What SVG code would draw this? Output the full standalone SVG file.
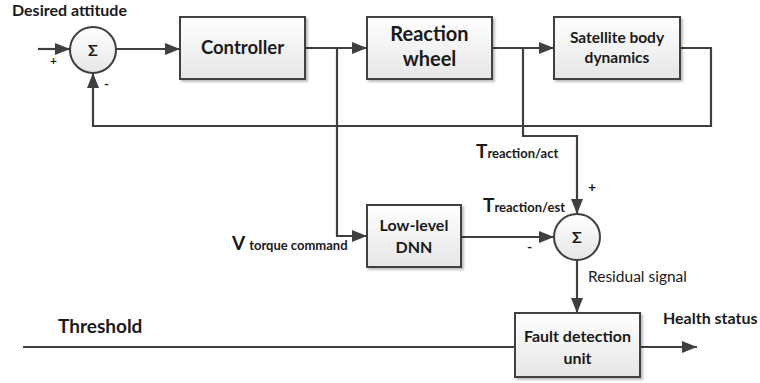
<svg xmlns="http://www.w3.org/2000/svg" width="760" height="383" viewBox="0 0 760 383">
<style>
text{font-family:Lato,"Open Sans","Liberation Sans",sans-serif;fill:#1a1a1a;font-weight:bold}
.box{fill:url(#g);stroke:#3f3f3f;stroke-width:2;filter:url(#sh)}
.sum{fill:url(#g);stroke:#3f3f3f;stroke-width:2}
.c{fill:none;stroke:#3f3f3f;stroke-width:2.2}
.a{marker-end:url(#ah)}
.mid{text-anchor:middle}
.reg{font-weight:normal}
</style>
<defs>
<linearGradient id="g" x1="0" y1="0" x2="0" y2="1">
<stop offset="0" stop-color="#ffffff"/>
<stop offset="1" stop-color="#e6e6e6"/>
</linearGradient>
<filter id="sh" x="-10%" y="-10%" width="130%" height="130%">
<feDropShadow dx="2" dy="2" stdDeviation="1" flood-color="#000" flood-opacity="0.25"/>
</filter>
<marker id="ah" markerUnits="userSpaceOnUse" markerWidth="15" markerHeight="12" refX="15" refY="6" orient="auto">
<path d="M0,0 L15,6 L0,12 z" fill="#3f3f3f"/>
</marker>
</defs>

<g id="connectors">
<path class="c a" d="M38,49 H70"/>
<path class="c a" d="M116,49 H180"/>
<path class="c a" d="M305,48 H367"/>
<path class="c a" d="M337,48 V236 H367"/>
<path class="c a" d="M492,48 H554"/>
<path class="c a" d="M523,48 V136 H577 V214"/>
<path class="c a" d="M680,48 H711 V126 H93 V73"/>
<path class="c a" d="M461,237 H554"/>
<path class="c a" d="M577,260 V313"/>
<path class="c" d="M23,347 H515"/>
<path class="c a" d="M640,347 H697"/>
</g>

<g id="sum1">
<circle class="sum" cx="93" cy="50" r="23"/>
<text class="mid" x="93" y="56" font-size="16">Σ</text>
</g>
<g id="controller">
<rect class="box" x="180" y="17" width="125" height="62"/>
<text class="mid" x="242.5" y="54" font-size="18.5">Controller</text>
</g>
<g id="reaction-wheel">
<rect class="box" x="367" y="17" width="125" height="62"/>
<text class="mid" x="429.5" y="41" font-size="20">Reaction</text>
<text class="mid" x="429.5" y="66" font-size="20">wheel</text>
</g>
<g id="satellite">
<rect class="box" x="554" y="17" width="126" height="62"/>
<text class="mid" x="617" y="43" font-size="15.5">Satellite body</text>
<text class="mid" x="617" y="63" font-size="15.5">dynamics</text>
</g>
<g id="dnn">
<rect class="box" x="367" y="205" width="94" height="62"/>
<text class="mid" x="414" y="231" font-size="16">Low-level</text>
<text class="mid" x="414" y="253" font-size="16">DNN</text>
</g>
<g id="sum2">
<circle class="sum" cx="577" cy="237" r="23"/>
<text class="mid" x="577" y="243" font-size="16">Σ</text>
</g>
<g id="fault">
<rect class="box" x="515" y="313" width="125" height="64"/>
<text class="mid" x="577.5" y="342" font-size="16">Fault detection</text>
<text class="mid" x="577.5" y="364" font-size="16">unit</text>
</g>

<g id="labels">
<text x="12" y="16" font-size="16">Desired attitude</text>
<text x="50" y="65" font-size="12">+</text>
<text x="104" y="89" font-size="13">-</text>
<text x="476" y="158" font-size="19">T<tspan font-size="13">reaction/act</tspan></text>
<text x="588" y="192" font-size="14">+</text>
<text x="483" y="212" font-size="19">T<tspan font-size="13">reaction/est</tspan></text>
<text x="527" y="252" font-size="14">-</text>
<text x="232" y="250" font-size="19">V <tspan font-size="13">torque command</tspan></text>
<text class="reg" x="588" y="282" font-size="15.5">Residual signal</text>
<text x="58" y="333" font-size="19">Threshold</text>
<text x="663" y="324" font-size="16">Health status</text>
</g>
</svg>
